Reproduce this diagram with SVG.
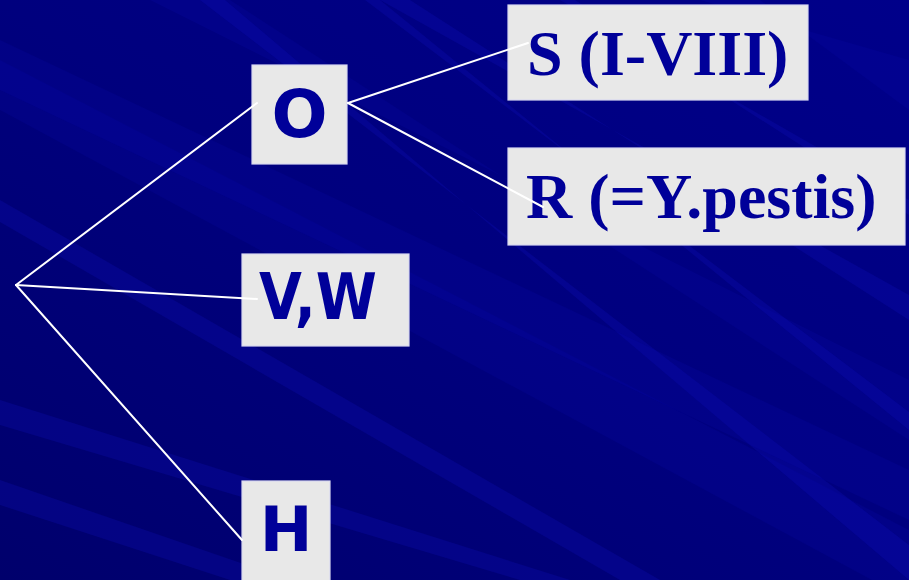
<svg xmlns="http://www.w3.org/2000/svg" width="909" height="580" viewBox="0 0 909 580">
  <defs>
    <linearGradient id="bg" x1="0" y1="1" x2="1" y2="0">
      <stop offset="0" stop-color="#00006c"/>
      <stop offset="0.5" stop-color="#00007e"/>
      <stop offset="1" stop-color="#00008a"/>
    </linearGradient>
    <style>
      .streak { fill: #1010c0; opacity: 0.25; }
      .streak-soft { fill: #1010c0; opacity: 0.14; }
      .box { fill: #e8e8e8; stroke: #d8d8f0; stroke-width: 1.2; }
      .sans { font-family: "DejaVu Sans", Verdana, sans-serif; font-weight: bold; fill: #000099; }
      .serif { font-family: "Liberation Serif", "Times New Roman", serif; font-weight: bold; fill: #000099; }
      .link { stroke: #ffffff; stroke-width: 2; fill: none; stroke-linecap: round; }
    </style>
  </defs>

  <!-- background with diagonal light streaks -->
  <rect x="0" y="0" width="909" height="580" fill="url(#bg)"/>
  <g id="background-streaks">
    <polygon class="streak-soft" points="0,60 0,110 909,600 909,530"/>
    <polygon class="streak" points="0,200 0,222 620,580 660,580"/>
    <polygon class="streak-soft" points="150,0 230,0 909,440 909,380"/>
    <polygon class="streak" points="380,0 410,0 909,320 909,295"/>
    <polygon class="streak" points="560,0 575,0 909,215 909,200"/>
    <polygon class="streak-soft" points="700,0 760,0 909,110 909,60"/>
    <polygon class="streak" points="200,0 225,0 909,580 909,545"/>
    <polygon class="streak" points="365,0 380,0 909,430 909,412"/>
    <polygon class="streak" points="0,400 0,425 520,580 570,580"/>
    <polygon class="streak" points="0,480 0,505 230,580 290,580"/>
    <polygon class="streak-soft" points="0,40 0,90 909,520 909,470"/>
  </g>

  <!-- nodes -->
  <g id="node-O">
    <rect class="box" x="252" y="65" width="95" height="99"/>
    <text class="sans" x="299.5" y="137" font-size="66" text-anchor="middle">O</text>
  </g>

  <g id="node-VW">
    <rect class="box" x="242" y="254" width="167" height="92"/>
    <text class="sans" x="259" y="319" font-size="64" textLength="118" lengthAdjust="spacingAndGlyphs">V,W</text>
  </g>

  <g id="node-H">
    <rect class="box" x="242" y="481" width="88" height="110"/>
    <text class="sans" x="286" y="551" font-size="63" text-anchor="middle">H</text>
  </g>

  <g id="node-S">
    <rect class="box" x="508" y="5" width="300" height="95"/>
    <text class="serif" x="527" y="75" font-size="64">S (I-VIII)</text>
  </g>

  <g id="node-R">
    <rect class="box" x="508" y="148" width="397" height="97"/>
    <text class="serif" x="526" y="218" font-size="64">R (=Y.pestis)</text>
  </g>

  <!-- connectors -->
  <g id="connectors">
    <line class="link" x1="16" y1="285" x2="257" y2="103"/>
    <line class="link" x1="16" y1="285" x2="257" y2="299"/>
    <line class="link" x1="16" y1="285" x2="242" y2="540"/>
    <line class="link" x1="348" y1="103" x2="528" y2="43"/>
    <line class="link" x1="348" y1="103" x2="543" y2="207"/>
  </g>
</svg>
